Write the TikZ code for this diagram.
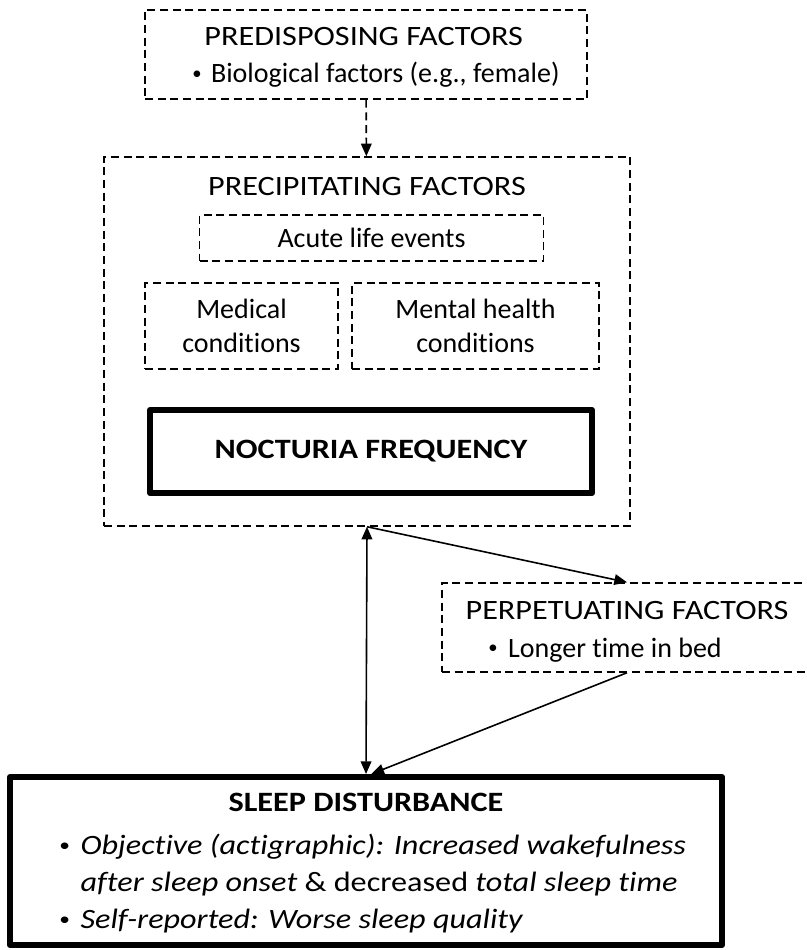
\documentclass[tikz,border=0pt]{standalone}
\usepackage{fontspec}
\setmainfont{Carlito}[Ligatures={NoCommon}]
\newfontfamily\widefont{Carlito}[FakeStretch=1.15, Ligatures={NoCommon}]
\usetikzlibrary{arrows.meta, positioning}
\newcommand{\bul}{\raisebox{0.12em}{\fontsize{14}{14}\selectfont\textbullet}}

\begin{document}
\begin{tikzpicture}[
      x=0.75pt, y=-0.75pt,
      font=\fontsize{21}{25.5}\selectfont,
      dbox/.style={draw, dash pattern=on 6pt off 3.5pt, line width=1.1pt,
                   inner sep=0pt, align=center},
      tbox/.style={draw, line width=4.5pt, line join=round,
                   inner sep=0pt, align=center},
      conn/.style={line width=1.2pt},
      >={Triangle[length=9.5pt, width=8pt]}]
    \useasboundingbox (0,0) rectangle (807,950);
    \node[dbox, align=left, minimum width=442*0.75pt, minimum height=89*0.75pt] (pre) at (366,54.5)
      {\rule{0pt}{18pt}\hspace*{24pt}{\widefont PREDISPOSING FACTORS}\\[2.5pt]
       \hspace*{15pt}\bul\hspace{7pt}Biological factors (e.g., female)};
    \node[dbox, minimum width=526*0.75pt, minimum height=369*0.75pt] (prec) at (367,341.5) {};
    \node[font=\fontsize{21}{25.5}\widefont] (prectitle) at ([yshift=-22.5pt]prec.north)
      {PRECIPITATING FACTORS};
    \node[dbox, minimum width=344*0.75pt, minimum height=46*0.75pt] (acute) at (371.5,238)
      {Acute life events};
    \node[dbox, minimum width=193*0.75pt, minimum height=86*0.75pt] (med) at (241.5,326)
      {Medical\\conditions};
    \node[dbox, minimum width=247*0.75pt, minimum height=86*0.75pt] (ment) at (475.5,326)
      {Mental health\\conditions};
    \node[tbox, minimum width=442*0.75pt, minimum height=83*0.75pt] (noct) at (371,451.5)
      {\widefont\bfseries NOCTURIA FREQUENCY};
    \node[dbox, align=left, minimum width=370*0.75pt, minimum height=89*0.75pt] (perp) at (627,627.5)
      {\rule{0pt}{19.5pt}{\widefont PERPETUATING FACTORS}\\[3pt]
       \hspace*{17pt}\bul\hspace{8pt}Longer time in bed};
    \node[tbox, minimum width=712*0.75pt, minimum height=168*0.75pt] (sleep) at (366,861) {};
    \node (sleeptitle) at ([yshift=-21pt]sleep.north) {\widefont\bfseries SLEEP DISTURBANCE};
    \node[align=left, anchor=west, inner sep=0pt, font=\fontsize{21}{27.75}\widefont] (sleeplist) at (59,884)
      {\bul\hspace{8pt}\textit{Objective (actigraphic): Increased wakefulness}\\
       \phantom{\bul}\hspace{8pt}\textit{after sleep onset} \& decreased \textit{total sleep time}\\
       \bul\hspace{8pt}\textit{Self-reported: Worse sleep quality}};
    \draw[->, conn, dash pattern=on 6pt off 3.5pt] (pre) -- (prec);
    \draw[<->, conn] (prec.south) -- (sleep.north);
    \draw[->, conn] (prec.south) -- (perp.north);
    \draw[->, conn] (perp.south) -- ([xshift=4pt]sleep.north);
  \end{tikzpicture}
\end{document}
